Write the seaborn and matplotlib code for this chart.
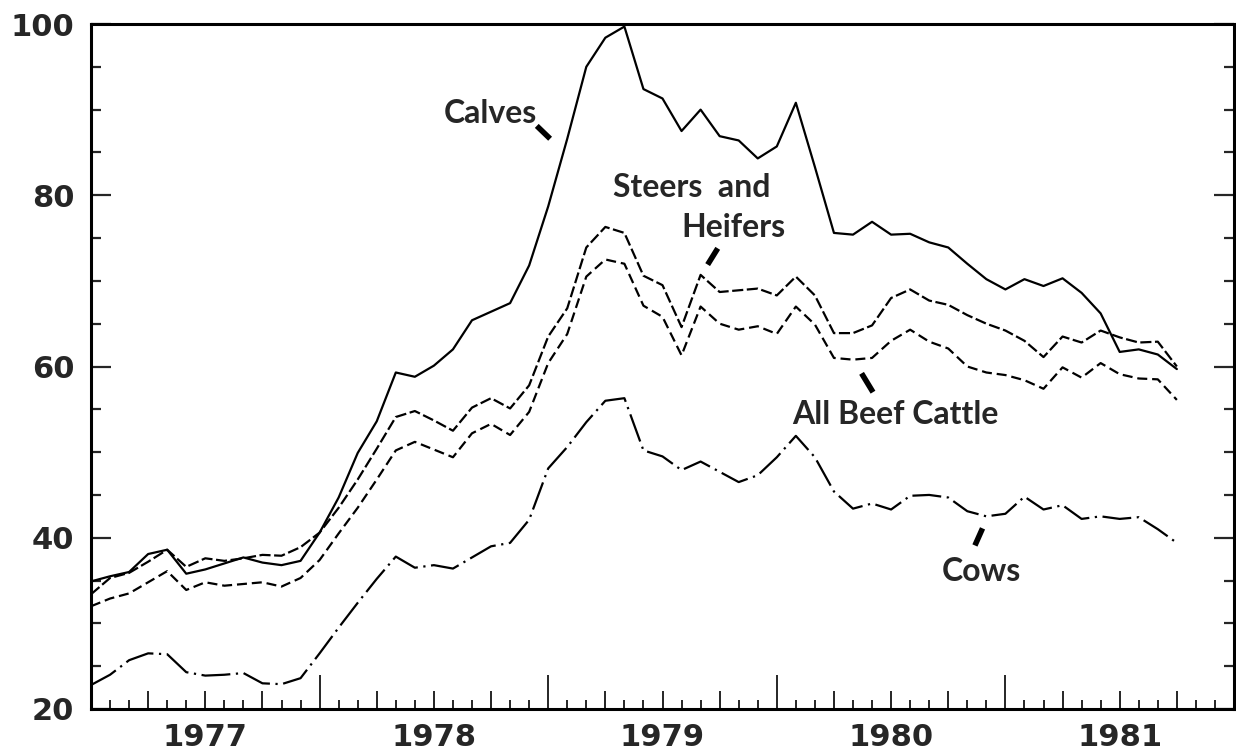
import numpy as np
import pandas as pd
import matplotlib
matplotlib.use("Agg")
import matplotlib.pyplot as plt
import matplotlib.transforms as mtransforms
from matplotlib.ticker import FixedLocator, MultipleLocator, NullFormatter
import seaborn as sns

# ---- data (monthly index values, Jan 1977 = month 0) ----
months = list(range(58))
calves = [34.9, 35.5, 36.0, 38.1, 38.6, 35.8, 36.3, 37.0, 37.7, 37.1, 36.8, 37.3,
          40.6, 44.7, 49.9, 53.6, 59.3, 58.8, 60.1, 62.0, 65.4, 66.4,
          67.4, 71.8, 78.7, 86.6, 95.0, 98.4, 99.7, 92.4, 91.3, 87.5, 90.0, 86.9,
          86.4, 84.3, 85.7, 90.8, 83.3, 75.6,
          75.4, 76.9, 75.4, 75.5, 74.5, 73.9, 72.0, 70.2, 69.0, 70.2, 69.4, 70.3,
          68.6, 66.2, 61.7, 62.0, 61.4, 59.7]
steers_heifers = [33.4, 35.3, 35.9, 37.2, 38.6, 36.6, 37.6, 37.3, 37.6, 38.0, 37.9, 38.9,
                  40.6, 43.5, 46.8, 50.4, 54.1, 54.8, 53.7, 52.5, 55.2, 56.3,
                  55.1, 57.8, 63.5, 66.8, 73.9, 76.3, 75.6, 70.6, 69.5, 64.6, 70.7, 68.7,
                  68.9, 69.1, 68.3, 70.5, 68.3, 63.9,
                  63.9, 64.8, 68.0, 69.0, 67.7, 67.2, 66.0, 65.0, 64.2, 63.0, 61.1, 63.5,
                  62.8, 64.2, 63.4, 62.8, 62.9, 60.0]
all_beef = [32.0, 32.9, 33.5, 34.8, 36.1, 33.9, 34.8, 34.4, 34.6, 34.8, 34.3, 35.3,
            37.4, 40.5, 43.5, 46.8, 50.2, 51.2, 50.3, 49.4, 52.2, 53.3,
            52.0, 54.7, 60.4, 63.8, 70.5, 72.5, 72.0, 67.1, 65.8, 61.3, 67.0, 65.0,
            64.3, 64.7, 63.8, 67.0, 64.9, 61.0,
            60.8, 61.0, 63.0, 64.3, 62.9, 62.1, 60.0, 59.3, 59.0, 58.4, 57.4, 59.9,
            58.7, 60.4, 59.1, 58.6, 58.5, 56.1]
cows = [22.8, 24.0, 25.7, 26.5, 26.4, 24.3, 23.9, 24.0, 24.2, 23.0, 22.9, 23.6,
        26.5, 29.5, 32.4, 35.2, 37.8, 36.5, 36.8, 36.4, 37.7, 39.0,
        39.4, 42.1, 48.1, 50.6, 53.5, 56.0, 56.3, 50.2, 49.5, 47.9, 48.9, 47.7,
        46.5, 47.3, 49.4, 51.9, 49.4, 45.4,
        43.4, 44.0, 43.3, 44.9, 45.0, 44.7, 43.1, 42.5, 42.8, 44.8, 43.3, 43.8,
        42.2, 42.5, 42.2, 42.4, 41.0, 39.4]

series_names = ["Calves", "Steers and Heifers", "All Beef Cattle", "Cows"]
year_labels = ["1977", "1978", "1979", "1980", "1981"]
y_tick_labels = ["20", "40", "60", "80", "100"]

df = pd.DataFrame({
    "month": months * 4,
    "value": calves + steers_heifers + all_beef + cows,
    "series": sum([[n] * len(months) for n in series_names], []),
})

# ---- style ----
sns.set_style("ticks")
plt.rcParams["font.family"] = ["DejaVu Sans"]

fig = plt.figure(figsize=(12.36, 7.56), dpi=100)
ax = fig.add_axes([91 / 1236, 47 / 756, (1234 - 91) / 1236, (709 - 24) / 756])

sns.lineplot(
    data=df, x="month", y="value", hue="series", style="series",
    palette={n: "black" for n in series_names},
    dashes={"Calves": "", "Steers and Heifers": (5, 1.6),
            "All Beef Cattle": (4.5, 2.2), "Cows": (13, 2.5, 1, 2.5)},
    linewidth=1.6, legend=False, ax=ax,
)

ax.set_xlim(0, 60)
ax.set_ylim(20, 100)
ax.set_xlabel("")
ax.set_ylabel("")

for s in ax.spines.values():
    s.set_linewidth(2.2)
    s.set_color("black")
    s.set_visible(True)

# y ticks
ax.yaxis.set_major_locator(MultipleLocator(20))
ax.yaxis.set_minor_locator(MultipleLocator(5))
ax.set_yticks([20, 40, 60, 80, 100])
ax.set_yticklabels(y_tick_labels, fontsize=22, fontweight="heavy")
ax.tick_params(axis="y", which="major", direction="in", length=14.5, width=1.6,
               left=True, right=True, pad=12)
ax.tick_params(axis="y", which="minor", direction="in", length=7, width=1.6,
               left=True, right=True)

# x ticks: years (long), months (short)
ax.xaxis.set_major_locator(MultipleLocator(12))
ax.xaxis.set_minor_locator(MultipleLocator(1))
ax.xaxis.set_major_formatter(NullFormatter())
ax.tick_params(axis="x", which="major", direction="in", length=24.5, width=1.4,
               bottom=True, top=False)
ax.tick_params(axis="x", which="minor", direction="in", length=6.5, width=1.4,
               bottom=True, top=False)

# quarter ticks (medium)
sec = ax.secondary_xaxis("bottom")
sec.set_xticks([q for q in range(3, 60, 3) if q % 12 != 0])
sec.tick_params(axis="x", direction="in", length=13, width=1.4, labelbottom=False)
sec.spines["bottom"].set_visible(False)

# year labels centred in each year
trans = mtransforms.blended_transform_factory(ax.transData, ax.transAxes)
for i, lab in enumerate(year_labels):
    ax.text(6 + 12 * i, -0.042, lab, transform=trans, ha="center", va="center",
            fontsize=22, fontweight="heavy")

# ---- labels with leader strokes ----
lab_kw = dict(fontsize=23, family=["Lato", "DejaVu Sans"], fontweight="bold",
              va="center", ha="left")
ax.text(18.5, 89.6, "Calves", **lab_kw)
ax.plot([23.4, 24.1], [88.1, 86.6], color="black", lw=4, solid_capstyle="butt")

ax.text(27.4, 80.9, "Steers  and", **lab_kw)
ax.text(31.0, 76.2, "Heifers", **lab_kw)
ax.plot([32.37, 32.9], [71.9, 73.8], color="black", lw=4, solid_capstyle="butt")

ax.text(36.8, 54.4, "All Beef Cattle", **lab_kw)
ax.plot([40.45, 41.05], [59.2, 57.0], color="black", lw=4, solid_capstyle="butt")

ax.text(44.65, 36.1, "Cows", **lab_kw)
ax.plot([46.8, 46.4], [41.1, 39.1], color="black", lw=4, solid_capstyle="butt")

fig.savefig("out.png", dpi=100)
